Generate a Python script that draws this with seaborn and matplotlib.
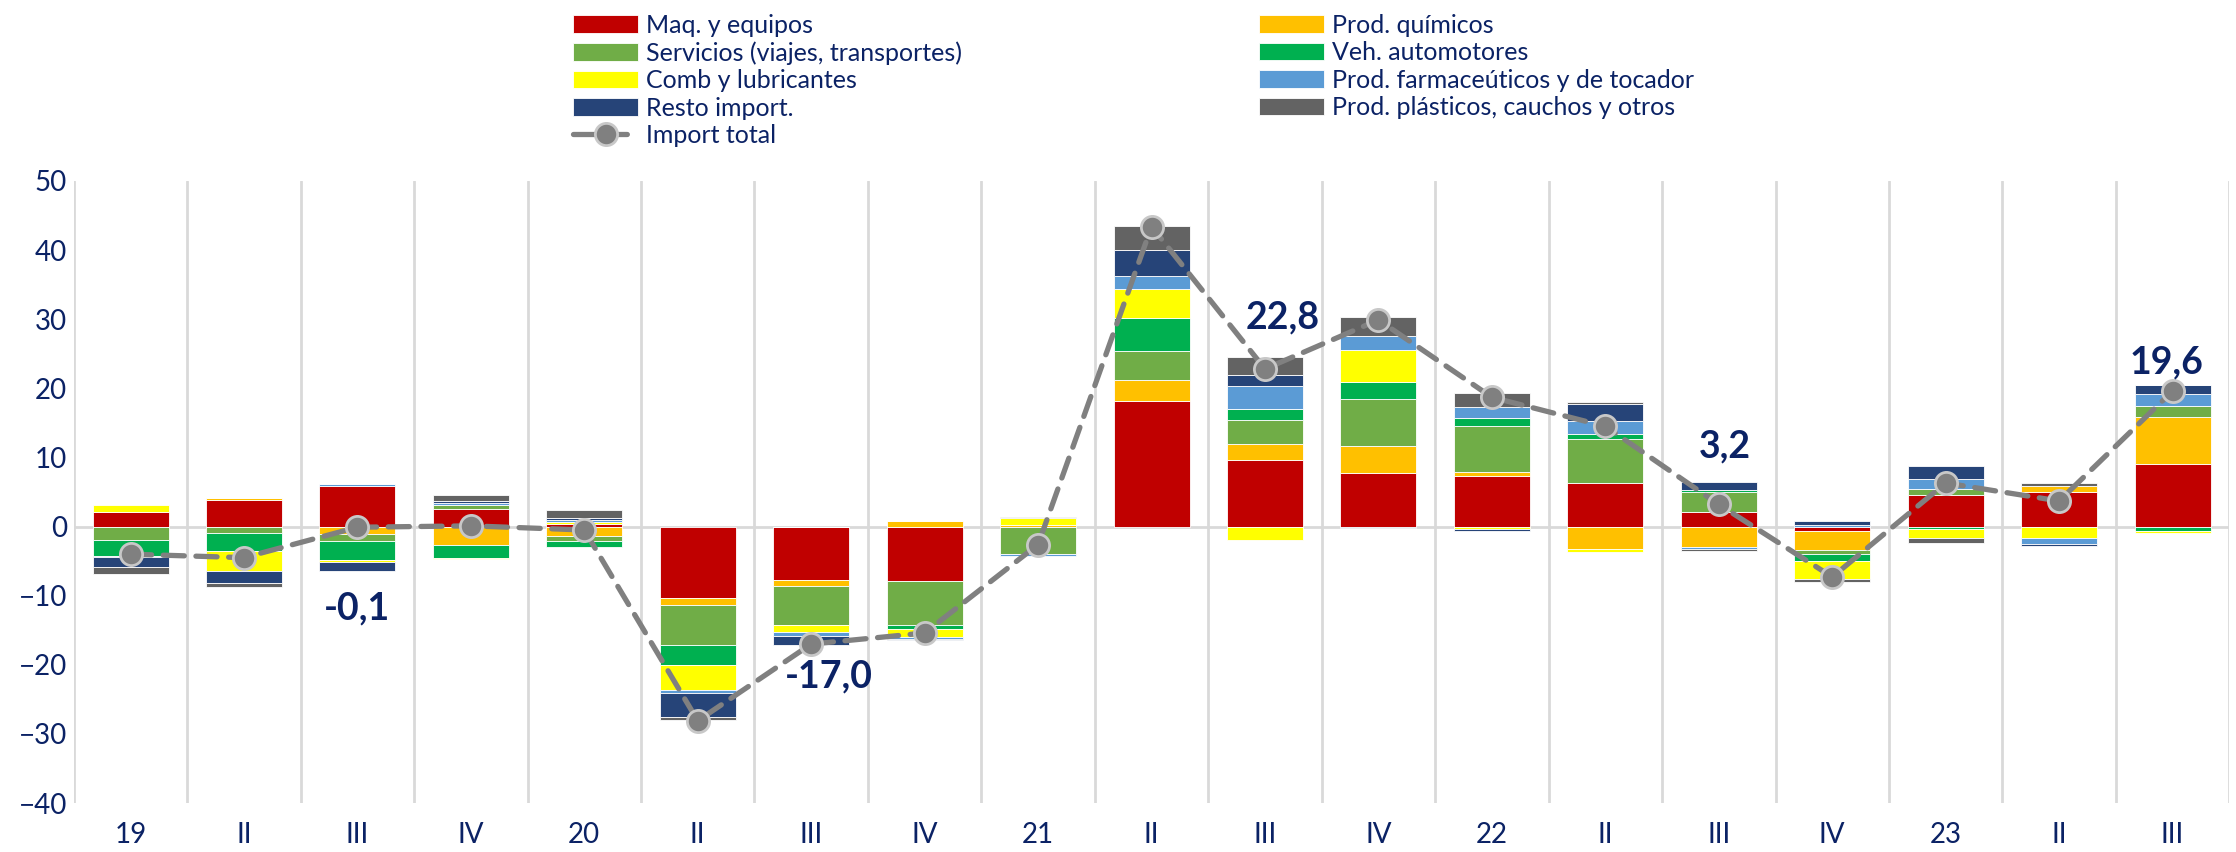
import matplotlib
matplotlib.use("Agg")
import matplotlib.pyplot as plt
import numpy as np
import seaborn as sns

# ── Data (contribuciones por trimestre, puntos porcentuales) ──────────────────
PERIODS = ["19", "II", "III", "IV", "20", "II", "III", "IV", "21", "II", "III", "IV",
           "22", "II", "III", "IV", "23", "II", "III"]

MAQ = [2.1, 3.8, 5.9, 2.6, 0.3, -10.4, -7.8, -7.85, 0.0, 18.1, 9.6, 7.7,
       7.3, 6.25, 2.1, -0.6, 4.6, 5.0, 9.1]
QUIM = [0.0, 0.3, -1.1, -2.6, -1.3, -0.9, -0.8, 0.8, 0.2, 3.1, 2.4, 4.0,
        0.6, -3.2, -3.0, -2.8, 0.0, 0.8, 6.7]
SERV = [-2.0, -1.0, -1.0, 0.5, -0.8, -5.8, -5.7, -6.4, -4.0, 4.15, 3.4, 6.7,
        6.6, 6.4, 2.9, -0.5, 0.8, 0.0, 1.65]
VEH = [-2.2, -2.5, -2.7, -1.9, -0.8, -2.9, 0.0, -0.6, 0.0, 4.85, 1.6, 2.55,
       1.15, 0.75, 0.3, -1.1, -0.3, 0.0, -0.6]
COMB = [1.0, -2.9, -0.4, -0.2, 0.3, -3.6, -1.0, -1.1, 1.0, 4.15, -1.9, 4.65,
        -0.35, -0.45, 0.0, -2.55, -1.4, -1.7, -0.4]
FARM = [-0.2, 0.0, 0.3, 0.3, 0.35, -0.5, -0.5, -0.3, -0.2, 1.9, 3.4, 2.0,
        1.6, 1.9, -0.3, 0.25, 1.5, -0.8, 1.7]
RESTO = [-1.4, -1.7, -1.2, 0.3, 0.3, -3.5, -1.3, -0.2, 0.1, 3.8, 1.5, -0.2,
         -0.3, 2.4, 1.1, 0.5, 1.9, -0.25, 1.4]
PLAST = [-1.1, -0.7, 0.0, 0.9, 1.1, -0.45, 0.0, 0.0, 0.15, 3.4, 2.7, 2.75,
         2.1, 0.3, -0.2, -0.5, -0.7, 0.5, 0.0]

TOTAL = [-4.0, -4.5, -0.1, 0.1, -0.5, -28.1, -17.0, -15.4, -2.6, 43.4, 22.8, 29.9,
         18.7, 14.5, 3.2, -7.3, 6.3, 3.7, 19.6]

# etiquetas destacadas: índice del trimestre -> texto
LABELS = {2: "-0,1", 6: "-17,0", 10: "22,8", 14: "3,2", 18: "19,6"}

SERIES = [
    ("Maq. y equipos", MAQ, "#C00000"),
    ("Prod. químicos", QUIM, "#FFC000"),
    ("Servicios (viajes, transportes)", SERV, "#70AD47"),
    ("Veh. automotores", VEH, "#00B050"),
    ("Comb y lubricantes", COMB, "#FFFF00"),
    ("Prod. farmaceúticos y de tocador", FARM, "#5B9BD5"),
    ("Resto import.", RESTO, "#264478"),
    ("Prod. plásticos, cauchos y otros", PLAST, "#636363"),
]

NAVY = "#0B2265"

sns.set_theme(style="white")
plt.rcParams["font.family"] = ["Lato", "DejaVu Sans"]

fig = plt.figure(figsize=(22.36, 8.52), dpi=100)
ax = fig.add_axes([0.033, 0.0575, 0.964, 0.7301])

x = np.arange(len(PERIODS))
pos_base = np.zeros(len(x))
neg_base = np.zeros(len(x))
for name, vals, color in SERIES:
    v = np.array(vals, dtype=float)
    bottom = np.where(v >= 0, pos_base, neg_base)
    ax.bar(x, v, bottom=bottom, width=0.67, color=color, edgecolor="white",
           linewidth=0.6, label=name, zorder=2)
    pos_base += np.clip(v, 0, None)
    neg_base += np.clip(v, None, 0)

sns.lineplot(x=x, y=TOTAL, ax=ax, color="#808080", linewidth=3.8,
             linestyle=(0, (4.0, 2.2)), dash_capstyle="round",
             marker="o", markersize=16, markerfacecolor="#808080",
             markeredgecolor="#C8C8C8", markeredgewidth=2,
             label="Import total", zorder=4)

# líneas de referencia
ax.axhline(0, color="#D9D9D9", linewidth=2, zorder=1)
for b in np.arange(-0.5, len(x), 1.0):
    ax.axvline(b, color="#D9D9D9", linewidth=2, zorder=0)

# etiquetas de valores
label_pos = {2: (0.0, -11.8), 6: (0.16, -21.7), 10: (0.16, 30.2), 14: (0.05, 11.6), 18: (-0.05, 23.8)}
for i, txt in LABELS.items():
    dx, y = label_pos[i]
    ax.text(x[i] + dx, y, txt, ha="center", va="center", fontsize=27,
            fontweight="bold", color=NAVY, zorder=5)

ax.set_xlim(-0.5, len(x) - 0.5)
ax.set_ylim(-40, 50)
ax.set_yticks(range(-40, 51, 10))
ax.set_xticks(x)
ax.set_xticklabels(PERIODS)
ax.tick_params(axis="both", labelsize=20, colors=NAVY, length=0)
ax.tick_params(axis="x", pad=14)
ax.tick_params(axis="y", pad=5)
for s in ax.spines.values():
    s.set_visible(False)
ax.set_xlabel("")
ax.set_ylabel("")

handles, labels = ax.get_legend_handles_labels()
lookup = dict(zip(labels, handles))
order = ["Maq. y equipos", "Servicios (viajes, transportes)", "Comb y lubricantes",
         "Resto import.", "Import total", "Prod. químicos", "Veh. automotores",
         "Prod. farmaceúticos y de tocador", "Prod. plásticos, cauchos y otros"]
if ax.get_legend() is not None:
    ax.get_legend().remove()
fig.legend([lookup[k] for k in order], order, loc="upper left",
           bbox_to_anchor=(0.248, 1.006), ncol=2, frameon=False, fontsize=18,
           handlelength=2.6, handleheight=0.7, handletextpad=0.3,
           labelspacing=0.18, columnspacing=11.9, borderpad=0.25,
           labelcolor=NAVY)

fig.savefig("out.png", dpi=100)
